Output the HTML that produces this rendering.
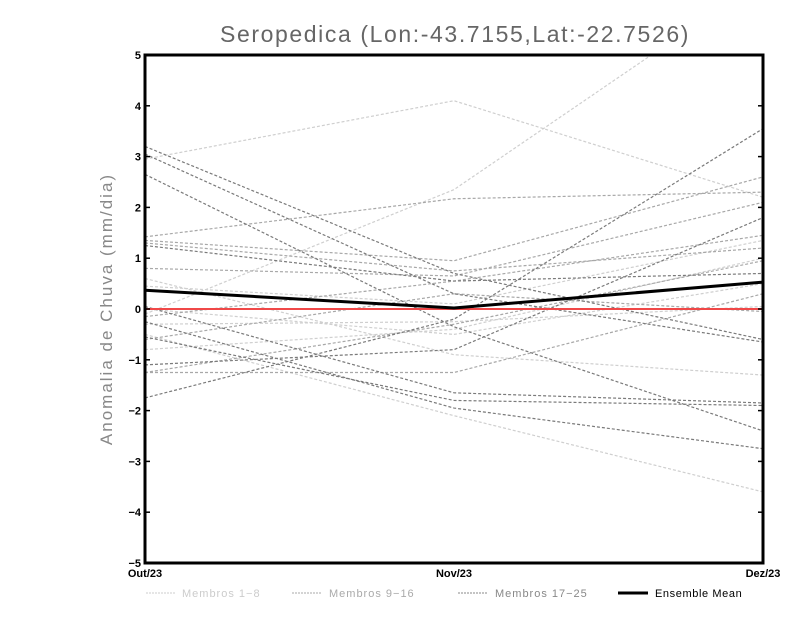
<!DOCTYPE html>
<html><head><meta charset="utf-8">
<style>
body{margin:0;background:#fff;}
svg{display:block;font-family:"Liberation Sans",sans-serif;}
</style></head>
<body>
<svg id="chart" width="800" height="618">
<defs><clipPath id="clip"><rect x="145" y="55" width="618" height="508"/></clipPath></defs>
<text x="455" y="42" text-anchor="middle" font-size="23" letter-spacing="1.6" fill="#666">Seropedica (Lon:-43.7155,Lat:-22.7526)</text>
<text transform="translate(112,309) rotate(-90)" text-anchor="middle" font-size="17" letter-spacing="2" fill="#888">Anomalia de Chuva (mm/dia)</text>
<g id="series" clip-path="url(#clip)"></g>
<g id="axes"></g>
<g id="legend">
<line x1="146" y1="593" x2="176" y2="593" stroke="#ccc" stroke-dasharray="2,1"/>
<text x="182" y="597" font-size="11" letter-spacing="1" fill="#ccc">Membros 1−8</text>
<line x1="292" y1="593" x2="322" y2="593" stroke="#aaa" stroke-dasharray="2,1"/>
<text x="329" y="597" font-size="11" letter-spacing="1" fill="#aaa">Membros 9−16</text>
<line x1="458" y1="593" x2="488" y2="593" stroke="#888" stroke-dasharray="2,1"/>
<text x="495" y="597" font-size="11" letter-spacing="1" fill="#888">Membros 17−25</text>
<line x1="618" y1="593" x2="648" y2="593" stroke="#000" stroke-width="3"/>
<text x="655" y="597" font-size="11" letter-spacing="0.6" fill="#000">Ensemble Mean</text>
</g>
</svg>
<script>
const categories=["Out/23","Nov/23","Dez/23"];
const yTicks=[-5,-4,-3,-2,-1,0,1,2,3,4,5];
const members1to8=[[2.95,4.1,2.2],[-0.1,2.35,6.5],[0.6,-0.9,-1.3],[-0.5,-2.1,-3.6],[0.45,0.1,1.35],[-0.8,-0.4,1.0],[-0.3,-0.25,0.05],[0.0,-0.5,0.5]];
const members9to16=[[1.42,2.17,2.3],[1.35,0.95,2.6],[0.8,0.65,2.1],[-1.25,-1.25,0.3],[-0.6,0.3,-0.05],[1.3,0.75,1.2],[-0.15,0.55,1.45],[-1.25,-0.3,0.95]];
const members17to25=[[3.2,0.7,-0.6],[3.05,0.3,-0.65],[2.65,-0.35,-2.4],[1.25,0.55,0.7],[0.05,-1.65,-1.85],[-0.25,-1.95,-2.75],[-0.55,-1.8,-1.9],[-1.1,-0.8,1.8],[-1.75,-0.2,3.55]];
const ensembleMean=[0.37,0.02,0.53];
const NS="http://www.w3.org/2000/svg";
const L=145,R=763,T=55,B=563;
function xs(i){return L+i*(R-L)/(categories.length-1);}
function ys(v){return B-(v+5)*(B-T)/10;}
const g=document.getElementById('series'),ax=document.getElementById('axes');
function mk(tag,attrs,parent){const e=document.createElementNS(NS,tag);for(const k in attrs)e.setAttribute(k,attrs[k]);parent.appendChild(e);return e;}
function line(vals,color,w,dash,name){
  const p=mk('polyline',{points:vals.map((v,i)=>xs(i)+','+ys(v)).join(' '),fill:'none',stroke:color,'stroke-width':w},g);
  if(dash)p.setAttribute('stroke-dasharray',dash);
  
  
}
members1to8.forEach((s,i)=>line(s,'#cfcfcf',1.2,'3,2','member-'+(i+1)+'-line'));
members9to16.forEach((s,i)=>line(s,'#a8a8a8',1.2,'3,2','member-'+(i+9)+'-line'));
members17to25.forEach((s,i)=>line(s,'#7a7a7a',1.2,'3,2','member-'+(i+17)+'-line'));
const z=mk('line',{x1:L,x2:R,y1:ys(0),y2:ys(0),stroke:'#f04848','stroke-width':2},g);


line(ensembleMean,'#000',3,null,'ensemble-mean-line');
const fr=mk('rect',{x:L,y:T,width:R-L,height:B-T,fill:'none',stroke:'#000','stroke-width':3},ax);


yTicks.forEach(v=>{
  mk('line',{x1:L,x2:L+5,y1:ys(v),y2:ys(v),stroke:'#000','stroke-width':1.5},ax);
  mk('line',{x1:R-5,x2:R,y1:ys(v),y2:ys(v),stroke:'#000','stroke-width':1.5},ax);
  const t=mk('text',{x:L-4,y:ys(v)+4,'text-anchor':'end','font-size':11,'font-weight':'bold'},ax);
  t.textContent=(v<0?'−':'')+Math.abs(v);
  
  
});
categories.forEach((c,i)=>{
  const t=mk('text',{x:xs(i),y:577,'text-anchor':'middle','font-size':11,'font-weight':'bold'},ax);
  t.textContent=c;
  
  
});
</script>
</body></html>
